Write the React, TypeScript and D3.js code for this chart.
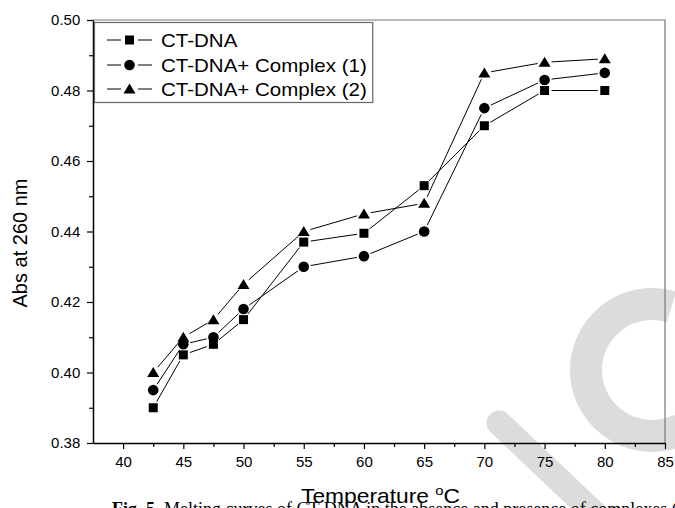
import { useEffect, useRef } from 'react'
import * as d3 from 'd3'

const temps = [42.5, 45, 47.5, 50, 55, 60, 65, 70, 75, 80]
const ctDna = [0.39, 0.405, 0.408, 0.415, 0.437, 0.4395, 0.453, 0.47, 0.48, 0.48]
const complex1 = [0.395, 0.408, 0.41, 0.418, 0.43, 0.433, 0.44, 0.475, 0.483, 0.485]
const complex2 = [0.4, 0.41, 0.415, 0.425, 0.44, 0.445, 0.448, 0.485, 0.488, 0.489]
const seriesNames = ['CT-DNA', 'CT-DNA+ Complex (1)', 'CT-DNA+ Complex (2)']
const seriesShapes = ['square', 'circle', 'triangle']
const xTicks = [40, 45, 50, 55, 60, 65, 70, 75, 80, 85]
const yTicks = [0.38, 0.4, 0.42, 0.44, 0.46, 0.48, 0.5]

export default function App() {
  const svgRef = useRef<SVGSVGElement>(null)

  useEffect(() => {
    if (!svgRef.current) return
    const width = 675
    const height = 508
    const margin = { top: 20, right: 10, bottom: 65, left: 93 }
    // the source figure is a little wider than tall, so the text is stretched sideways
    const stretch = 1.14

    const svg = d3.select(svgRef.current)
    svg.selectAll('*').remove()
    svg.attr('width', width).attr('height', height).style('background', '#fff')

    const x = d3.scaleLinear().domain([37.5, 85]).range([margin.left, width - margin.right])
    const y = d3.scaleLinear().domain([0.38, 0.5]).range([height - margin.bottom, margin.top])
    const x0 = margin.left
    const x1 = width - margin.right
    const y0 = height - margin.bottom
    const y1 = margin.top

    // watermark
    const wm = svg.append('g').attr('fill', 'none').attr('stroke', '#dcdcdc').attr('stroke-linecap', 'round')
    wm.append('path')
      .attr('d', d3.arc()({ innerRadius: 66, outerRadius: 66, startAngle: 0.3, endAngle: -3.6 } as any) as string)
      .attr('transform', 'translate(652,370)')
      .attr('stroke-width', 32)
    wm.append('line')
      .attr('x1', 499).attr('y1', 423).attr('x2', 612).attr('y2', 530)
      .attr('stroke-width', 25)

    // frame
    svg.append('path')
      .attr('d', `M${x0},${y1}H${x1}V${y0}`)
      .attr('fill', 'none').attr('stroke', '#777').attr('stroke-width', 1.2)

    const font = 'Arial, "Liberation Sans", sans-serif'

    // axes
    const xAxis = svg.append('g').attr('transform', `translate(0,${y0})`)
      .call(d3.axisBottom(x).tickValues(xTicks).tickFormat(d3.format('d')).tickSize(6).tickSizeOuter(0))
    svg.append('g').attr('transform', `translate(0,${y0})`)
      .call(d3.axisBottom(x).tickValues(d3.range(42.5, 85, 5)).tickFormat(() => '').tickSize(4).tickSizeOuter(0))
      .select('.domain').remove()
    const yAxis = svg.append('g').attr('transform', `translate(${x0},0)`)
      .call(d3.axisLeft(y).tickValues(yTicks).tickFormat(d3.format('.2f')).tickSize(6).tickSizeOuter(0))
    svg.append('g').attr('transform', `translate(${x0},0)`)
      .call(d3.axisLeft(y).tickValues(d3.range(0.39, 0.5, 0.02)).tickFormat(() => '').tickSize(4).tickSizeOuter(0))
      .select('.domain').remove()

    svg.selectAll('.domain').attr('stroke', '#000').attr('stroke-width', 1.5)
    svg.selectAll('.tick line').attr('stroke-width', 1.2)
    xAxis.selectAll('text').attr('font-family', font).attr('font-size', 15).attr('fill', '#000').attr('dy', '1.02em')
    yAxis.selectAll('text').attr('font-family', font).attr('font-size', 15).attr('fill', '#000').attr('dx', '-0.25em')

    // caption (cut off at the bottom edge)
    const cap = svg.append('text')
      .attr('x', 112).attr('y', 515)
      .attr('font-family', '"Liberation Serif", "Times New Roman", serif').attr('font-size', 18).attr('fill', '#000')
    cap.append('tspan').attr('font-weight', 'bold').text('Fig. 5.')
    cap.append('tspan').text(' Melting curves of CT-DNA in the absence and presence of complexes (1) and (2)')

    // axis titles
    const xt = svg.append('text')
      .attr('transform', `translate(301,503) scale(${stretch},1)`)
      .attr('font-family', font).attr('font-size', 20).attr('fill', '#000')
    xt.append('tspan').text('Temperature ')
    xt.append('tspan').attr('dy', -8).attr('font-size', 13).text('o')
    xt.append('tspan').attr('dy', 8).text('C')

    svg.append('text')
      .attr('transform', `translate(27,243) rotate(-90)`)
      .attr('text-anchor', 'middle')
      .attr('font-family', font).attr('font-size', 20).attr('fill', '#000')
      .text('Abs at 260 nm')

    // symbols
    const drawMarker = (g: any, shape: string, cx: number, cy: number) => {
      if (shape === 'square') {
        g.append('rect').attr('x', cx - 4.5).attr('y', cy - 4.5).attr('width', 9).attr('height', 9).attr('fill', '#000')
      } else if (shape === 'circle') {
        g.append('circle').attr('cx', cx).attr('cy', cy).attr('r', 5.3).attr('fill', '#000')
      } else {
        g.append('path').attr('d', `M${cx},${cy - 5.5}L${cx + 6},${cy + 4.5}L${cx - 6},${cy + 4.5}Z`).attr('fill', '#000')
      }
    }

    const allSeries = [ctDna, complex1, complex2]
    const gap = 7
    allSeries.forEach((vals, si) => {
      const g = svg.append('g')
      const pts = vals.map((v, i) => [x(temps[i]), y(v)])
      for (let i = 0; i < pts.length - 1; i++) {
        const [ax, ay] = pts[i]
        const [bx, by] = pts[i + 1]
        const len = Math.hypot(bx - ax, by - ay)
        const ux = (bx - ax) / len
        const uy = (by - ay) / len
        g.append('line')
          .attr('x1', ax + ux * gap).attr('y1', ay + uy * gap)
          .attr('x2', bx - ux * gap).attr('y2', by - uy * gap)
          .attr('stroke', '#000').attr('stroke-width', 1)
      }
      pts.forEach(([px, py]) => drawMarker(g, seriesShapes[si], px, py))
    })

    // legend
    const lg = svg.append('g')
    const rowY = [40, 65, 89]
    const labels: any[] = []
    seriesNames.forEach((name, i) => {
      lg.append('line').attr('x1', 107).attr('x2', 121).attr('y1', rowY[i]).attr('y2', rowY[i]).attr('stroke', '#000')
      lg.append('line').attr('x1', 138).attr('x2', 152).attr('y1', rowY[i]).attr('y2', rowY[i]).attr('stroke', '#000')
      drawMarker(lg, seriesShapes[i], 129.5, rowY[i])
      labels.push(lg.append('text')
        .attr('transform', `translate(161,${rowY[i] + 6.5}) scale(${stretch},1)`)
        .attr('font-family', font).attr('font-size', 18).attr('fill', '#000')
        .text(name))
    })
    const maxW = (d3.max(labels, (t: any) => (t.node() as SVGTextElement).getComputedTextLength()) as number) * stretch
    lg.insert('rect', ':first-child')
      .attr('x', 94.5).attr('y', 22.5).attr('width', 161 + maxW + 6 - 94.5).attr('height', 80)
      .attr('fill', '#fff').attr('stroke', '#666').attr('stroke-width', 1.2)
  }, [])

  return (
    <div style={{ position: 'fixed', left: 0, top: 0 }}>
      <svg ref={svgRef}></svg>
    </div>
  )
}
